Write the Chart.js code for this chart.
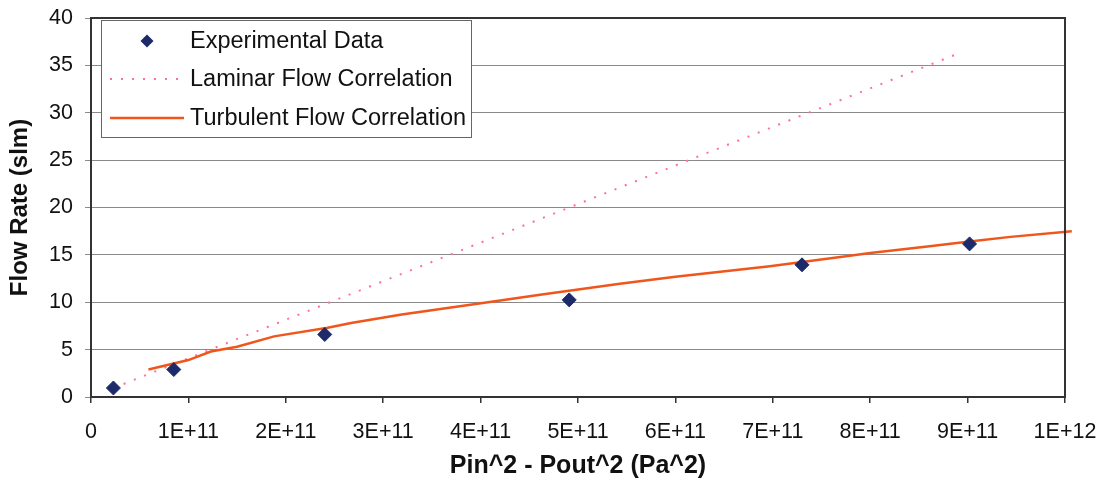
<!DOCTYPE html>
<html>
<head>
<meta charset="utf-8">
<script src="https://cdn.jsdelivr.net/npm/chart.js@4/dist/chart.umd.min.js"></script>
<style>
  html, body { margin: 0; padding: 0; background: #fff; }
  #wrap { width: 1106px; height: 489px; position: relative; }
</style>
</head>
<body>
<div id="wrap"><canvas id="flowChart"></canvas></div>
<script>
// values
const expX = [2.3e10, 8.5e10, 2.4e11, 4.91e11, 7.3e11, 9.02e11];
const expY = [0.95, 2.9, 6.6, 10.25, 13.95, 16.16];

const lamX = [2.3e10, 8.94e11];
const lamY = [0.95, 36.4];

const turbX = [5.9e10, 1e11, 1.23e11, 1.5e11, 1.88e11, 2.43e11, 2.67e11, 3.19e11, 4.22e11, 4.61e11, 5.43e11, 6e11, 6.97e11, 7.79e11, 8e11, 8.61e11, 9.02e11, 9.44e11, 1.007e12];
const turbY = [2.9, 3.9, 4.8, 5.3, 6.4, 7.3, 7.8, 8.7, 10.2, 10.8, 11.95, 12.7, 13.8, 14.9, 15.2, 15.9, 16.4, 16.9, 17.5];

const seriesNames = ['Experimental Data', 'Laminar Flow Correlation', 'Turbulent Flow Correlation'];

const FONT = 'Arial, "Liberation Sans", sans-serif';

function toPoints(xs, ys){
    return xs.map((x, i) => ({ x: x, y: ys[i] }));
}

// Excel style scientific labels: 1E+11
function sciLabel(v){
    if(v === 0) return '0';
    const e = Math.floor(Math.log10(v) + 1e-9);
    const m = Math.round(v / Math.pow(10, e));
    return m + 'E+' + e;
}

// frame around the plot area + legend box inside it
const framePlugin = {
    id: 'frame',
    afterDatasetsDraw(chart){
        const ctx = chart.ctx;
        const a = chart.chartArea;
        ctx.save();
        ctx.strokeStyle = '#333';
        ctx.lineWidth = 2;
        ctx.strokeRect(a.left, a.top, a.right - a.left, a.bottom - a.top);

        // legend
        const bx = 101, by = 20, bw = 370, bh = 117;
        ctx.fillStyle = '#fff';
        ctx.fillRect(bx, by, bw, bh);
        ctx.strokeStyle = '#666';
        ctx.lineWidth = 1;
        ctx.strokeRect(bx + 0.5, by + 0.5, bw, bh);

        const rows = [41, 79, 118];
        const ds = chart.data.datasets;
        ctx.font = '23.5px ' + FONT;
        ctx.textBaseline = 'middle';
        ctx.textAlign = 'left';
        rows.forEach((ry, i) => {
            const d = ds[i];
            if(i === 0){
                const r = 6.5;
                ctx.fillStyle = d.pointBackgroundColor;
                ctx.beginPath();
                ctx.moveTo(147 - r, ry);
                ctx.lineTo(147, ry - r);
                ctx.lineTo(147 + r, ry);
                ctx.lineTo(147, ry + r);
                ctx.closePath();
                ctx.fill();
            } else {
                ctx.strokeStyle = d.borderColor;
                ctx.lineWidth = d.borderWidth;
                ctx.setLineDash(d.borderDash || []);
                ctx.beginPath();
                ctx.moveTo(110, ry);
                ctx.lineTo(184, ry);
                ctx.stroke();
                ctx.setLineDash([]);
            }
            ctx.fillStyle = '#111';
            ctx.fillText(d.label, 190, ry + 1);
        });
        ctx.restore();
    }
};

function initChart(){
    const canvas = document.getElementById('flowChart');
    if(!canvas) return;
    if(typeof Chart === 'undefined'){ setTimeout(initChart, 50); return; }

    new Chart(canvas.getContext('2d'), {
        type: 'scatter',
        data: {
            datasets: [{
                label: seriesNames[0],
                data: toPoints(expX, expY),
                pointStyle: 'rectRot',
                pointRadius: 7,
                pointBackgroundColor: '#1c2a6b',
                pointBorderColor: '#1c2a6b',
                pointBorderWidth: 1,
                showLine: false,
                order: 0
            }, {
                label: seriesNames[1],
                data: toPoints(lamX, lamY),
                showLine: true,
                borderColor: '#ff6f9a',
                borderWidth: 2,
                borderDash: [2, 9],
                pointRadius: 0,
                order: 2
            }, {
                label: seriesNames[2],
                data: toPoints(turbX, turbY),
                showLine: true,
                borderColor: '#f0561c',
                borderWidth: 2.5,
                pointRadius: 0,
                tension: 0,
                clip: 12,
                order: 1
            }]
        },
        options: {
            responsive: false,
            animation: false,
            layout: { padding: { top: 18, right: 41, left: 0, bottom: 0 } },
            plugins: { legend: { display: false }, tooltip: { enabled: false } },
            scales: {
                x: {
                    type: 'linear',
                    min: 0,
                    max: 1e12,
                    afterFit(s){ s.height = 92; s.paddingLeft = 0; s.paddingRight = 0; },
                    afterBuildTicks(s){
                        s.ticks = [];
                        for(let i = 0; i <= 10; i++) s.ticks.push({ value: i * 1e11 });
                    },
                    ticks: {
                        callback: v => sciLabel(v),
                        color: '#111',
                        font: { family: FONT, size: 21.5 },
                        padding: 16,
                        maxRotation: 0,
                        autoSkip: false
                    },
                    grid: { drawOnChartArea: false, tickLength: 6, color: '#333', lineWidth: 1.5 },
                    border: { display: false },
                    title: {
                        display: true,
                        text: 'Pin^2 - Pout^2 (Pa^2)',
                        color: '#111',
                        font: { family: FONT, size: 25, weight: 'bold' },
                        padding: { top: 0, bottom: 8 }
                    }
                },
                y: {
                    min: 0,
                    max: 40,
                    afterFit(s){ s.width = 91; s.paddingTop = 0; s.paddingBottom = 0; },
                    ticks: {
                        stepSize: 5,
                        color: '#111',
                        font: { family: FONT, size: 21.5 },
                        padding: 12
                    },
                    grid: { color: '#8a8a8a', lineWidth: 1, tickLength: 6 },
                    border: { display: false },
                    title: {
                        display: true,
                        text: 'Flow Rate (slm)',
                        color: '#111',
                        font: { family: FONT, size: 24, weight: 'bold' },
                        padding: { top: 6, bottom: 0 }
                    }
                }
            }
        },
        plugins: [framePlugin]
    });
}

document.getElementById('flowChart').width = 1106;
document.getElementById('flowChart').height = 489;

if(document.readyState === 'loading'){
    document.addEventListener('DOMContentLoaded', initChart);
} else {
    initChart();
}
</script>
</body>
</html>
